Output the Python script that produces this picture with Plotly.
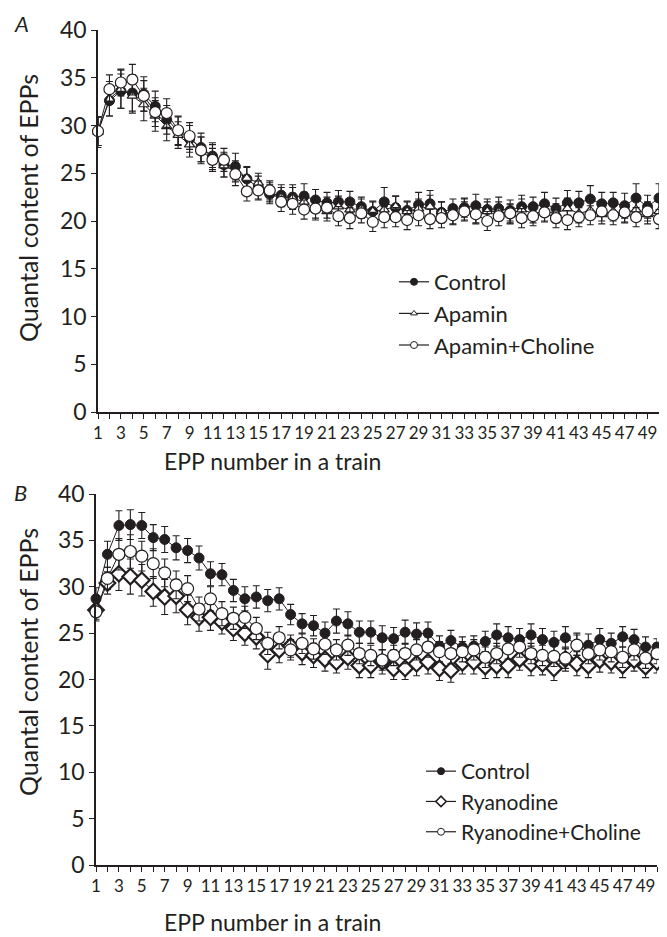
import plotly.graph_objects as go

epp = list(range(1, 51))
x_tick_vals = list(range(1, 50, 2))
x_tick_text = [str(v) for v in x_tick_vals]
y_tick_vals = [0, 5, 10, 15, 20, 25, 30, 35, 40]

# Panel A
control_a = [29.4, 32.6, 33.6, 33.4, 33.3, 32.0, 30.6, 29.4, 28.6, 27.7, 26.8, 25.9, 25.7, 24.4, 23.5,
             22.8, 22.7, 22.5, 22.6, 22.2, 21.9, 22.0, 22.0, 21.5, 21.0, 22.0, 21.4, 21.1, 21.7, 21.8,
             20.9, 21.3, 21.4, 21.6, 21.2, 21.3, 21.1, 21.5, 21.5, 21.8, 21.3, 21.9, 21.9, 22.3, 21.8,
             21.9, 21.6, 22.4, 21.5, 22.4]
control_a_err = [1.5, 1.6, 1.8, 1.9, 1.8, 1.6, 1.5, 1.5, 1.4, 1.5, 1.4, 1.3, 1.4, 1.3, 1.2,
                 1.0, 1.1, 1.3, 1.3, 1.1, 1.1, 1.2, 1.1, 1.0, 1.1, 1.5, 1.2, 1.0, 1.3, 1.4,
                 1.1, 1.0, 1.0, 1.2, 1.1, 1.2, 1.1, 1.2, 1.0, 1.2, 1.1, 1.3, 1.2, 1.4, 1.2,
                 1.1, 1.3, 1.5, 1.2, 1.5]
apamin = [29.3, 32.8, 33.8, 33.1, 32.2, 31.0, 29.9, 29.0, 28.0, 27.5, 26.8, 25.8, 25.2, 24.5, 24.0,
          23.0, 22.5, 22.4, 22.0, 21.3, 21.0, 21.5, 21.2, 21.3, 21.0, 21.2, 21.5, 21.0, 21.3, 21.5,
          21.0, 20.7, 21.2, 20.8, 21.0, 21.0, 20.7, 21.2, 20.8, 21.0, 20.8, 21.3, 20.8, 21.1, 20.7,
          21.0, 20.8, 21.2, 20.7, 21.0]
apamin_err = [1.6, 1.8, 2.0, 1.8, 1.7, 1.6, 1.5, 1.4, 1.3, 1.3, 1.2, 1.2, 1.1, 1.1, 1.0,
              1.0, 1.0, 1.1, 1.0, 1.0, 1.0, 1.1, 1.0, 1.0, 1.0, 1.0, 1.1, 1.0, 1.0, 1.2,
              1.0, 1.0, 1.1, 1.0, 1.0, 1.0, 1.0, 1.1, 1.0, 1.0, 1.0, 1.1, 1.0, 1.0, 1.0,
              1.0, 1.0, 1.1, 1.0, 1.0]
apamin_choline = [29.4, 33.8, 34.5, 34.8, 33.1, 31.4, 31.3, 29.5, 28.9, 27.4, 26.4, 26.4, 24.9, 23.1, 23.2,
                  23.2, 22.0, 21.8, 21.2, 21.3, 21.4, 20.5, 20.3, 20.8, 19.9, 20.4, 20.4, 20.1, 20.6, 20.2,
                  20.3, 20.6, 21.0, 20.7, 20.0, 20.5, 20.8, 20.3, 20.5, 20.9, 20.3, 20.1, 20.4, 20.6, 21.0,
                  20.6, 20.9, 20.4, 21.0, 20.2]
apamin_choline_err = [1.5, 1.5, 1.4, 1.6, 1.6, 1.5, 1.5, 1.5, 1.4, 1.4, 1.2, 1.2, 1.2, 1.0, 1.0,
                      1.0, 1.0, 1.1, 1.0, 1.2, 1.1, 1.0, 1.1, 1.0, 1.0, 1.1, 1.0, 1.0, 1.1, 1.0,
                      1.0, 1.0, 1.0, 1.0, 1.0, 1.0, 1.0, 1.0, 1.0, 1.0, 1.0, 1.0, 1.0, 1.0, 1.0,
                      1.0, 1.0, 1.0, 1.0, 1.0]

# Panel B
control_b = [28.7, 33.5, 36.6, 36.7, 36.6, 35.3, 35.1, 34.2, 33.9, 33.1, 31.4, 31.3, 29.6, 28.7, 28.9,
             28.5, 28.7, 27.0, 26.0, 25.8, 25.0, 26.3, 26.0, 25.1, 25.1, 24.5, 24.4, 25.1, 24.9, 25.0,
             23.6, 24.2, 23.5, 23.6, 24.1, 24.8, 24.5, 24.3, 24.8, 24.3, 24.0, 24.5, 23.8, 23.7, 24.3,
             23.9, 24.6, 24.3, 23.5, 23.5]
control_b_err = [1.2, 1.4, 1.6, 1.6, 1.4, 1.4, 1.4, 1.3, 1.3, 1.3, 1.3, 1.2, 1.2, 1.3, 1.2,
                 1.2, 1.2, 1.1, 1.1, 1.1, 1.2, 1.3, 1.3, 1.2, 1.2, 1.3, 1.2, 1.3, 1.2, 1.2,
                 1.1, 1.1, 1.1, 1.1, 1.1, 1.2, 1.2, 1.2, 1.2, 1.2, 1.2, 1.2, 1.2, 1.2, 1.2,
                 1.1, 1.1, 1.1, 1.1, 0.9]
ryanodine = [27.5, 30.4, 31.4, 31.1, 30.7, 29.5, 28.9, 29.0, 27.5, 26.7, 26.7, 26.2, 25.5, 25.0, 24.6,
             22.7, 23.2, 23.6, 22.9, 22.6, 22.2, 21.9, 22.4, 21.5, 21.5, 21.9, 21.2, 21.2, 21.7, 21.9,
             21.2, 21.0, 21.8, 21.9, 21.4, 21.5, 21.5, 22.2, 21.7, 21.7, 21.2, 22.2, 21.7, 21.5, 22.1,
             21.9, 21.5, 22.1, 21.4, 21.9]
ryanodine_err = [1.0, 1.2, 1.8, 1.9, 1.7, 1.6, 1.9, 1.8, 1.6, 1.5, 1.4, 1.3, 1.3, 1.3, 1.3,
                 1.6, 1.4, 1.2, 1.3, 1.3, 1.3, 1.2, 1.3, 1.3, 1.3, 1.3, 1.2, 1.2, 1.3, 1.3,
                 1.3, 1.3, 1.2, 1.3, 1.3, 1.3, 1.3, 1.2, 1.3, 1.2, 1.3, 1.3, 1.3, 1.3, 1.3,
                 1.2, 1.3, 1.2, 1.2, 1.2]
ryanodine_choline = [27.3, 30.9, 33.5, 33.8, 33.3, 32.5, 31.5, 30.2, 29.8, 27.6, 28.7, 27.1, 26.6, 26.7, 25.5,
                     23.9, 24.5, 23.2, 23.9, 23.3, 23.8, 23.2, 23.7, 22.8, 22.6, 22.1, 22.6, 22.8, 23.2, 23.5,
                     23.0, 22.8, 23.0, 23.2, 22.4, 22.8, 23.3, 23.5, 22.8, 22.6, 22.5, 22.3, 23.7, 22.8, 23.2,
                     23.0, 22.4, 23.2, 22.3, 22.8]
ryanodine_choline_err = [1.0, 1.2, 1.7, 1.8, 1.6, 1.6, 1.5, 1.5, 1.4, 1.3, 1.3, 1.3, 1.2, 1.2, 1.2,
                         1.2, 1.2, 1.1, 1.1, 1.1, 1.1, 1.1, 1.1, 1.1, 1.1, 1.1, 1.1, 1.1, 1.1, 1.1,
                         1.1, 1.1, 1.1, 1.1, 1.1, 1.1, 1.1, 1.1, 1.1, 1.1, 1.1, 1.1, 1.1, 1.1, 1.1,
                         1.1, 1.1, 1.1, 1.1, 1.1]

INK = "#231f20"
FONT = "Lato"
OFF = 8                 # page body margin of the browser
W, H = 667 - OFF, 937 - OFF


def px(x):
    return (x - OFF) / W


def py(y):
    return 1 - (y - OFF) / H


def err(arr):
    return dict(type="data", array=arr, visible=True, color=INK, thickness=1.1, width=3.5)


def trace(y, e, name, symbol, size, fill, lw, xa, ya):
    return go.Scatter(
        x=epp, y=y, name=name, mode="lines+markers", xaxis=xa, yaxis=ya, showlegend=False,
        error_y=err(e), cliponaxis=False,
        line=dict(color=INK, width=1),
        marker=dict(symbol=symbol, size=size, color=fill, line=dict(color=INK, width=lw)),
    )


def legend_entry(name, symbol, size, fill, lw, xa, ya, legend):
    return go.Scatter(
        x=[None], y=[None], name=name, mode="lines+markers", xaxis=xa, yaxis=ya,
        legend=legend, showlegend=True,
        line=dict(color=INK, width=1.2),
        marker=dict(symbol=symbol, size=size, color=fill, line=dict(color=INK, width=lw)),
    )


fig = go.Figure()
fig.add_trace(trace(control_a, control_a_err, "Control", "circle", 10, INK, 1, "x", "y"))
fig.add_trace(trace(apamin, apamin_err, "Apamin", "triangle-up", 9, "white", 1.2, "x", "y"))
fig.add_trace(trace(apamin_choline, apamin_choline_err, "Apamin+Choline", "circle", 11, "white", 1.2, "x", "y"))
fig.add_trace(trace(control_b, control_b_err, "Control", "circle", 10, INK, 1, "x2", "y2"))
fig.add_trace(trace(ryanodine, ryanodine_err, "Ryanodine", "diamond", 12, "white", 2.2, "x2", "y2"))
fig.add_trace(trace(ryanodine_choline, ryanodine_choline_err, "Ryanodine+Choline", "circle", 12, "white", 1.2, "x2", "y2"))

fig.add_trace(legend_entry("Control", "circle", 7, INK, 1, "x", "y", "legend"))
fig.add_trace(legend_entry("Apamin", "triangle-up", 6, "white", 1, "x", "y", "legend"))
fig.add_trace(legend_entry("Apamin+Choline", "circle", 7, "white", 1, "x", "y", "legend"))
fig.add_trace(legend_entry("Control", "circle", 7, INK, 1, "x2", "y2", "legend2"))
fig.add_trace(legend_entry("Ryanodine", "diamond", 8, "white", 1.6, "x2", "y2", "legend2"))
fig.add_trace(legend_entry("Ryanodine+Choline", "circle", 7, "white", 1, "x2", "y2", "legend2"))

xcommon = dict(
    range=[1, 50], tickmode="array", tickvals=x_tick_vals, ticktext=x_tick_text, tickangle=0,
    ticks="outside", ticklen=5, tickwidth=1, tickcolor=INK,
    minor=dict(dtick=1, tick0=1, ticks="outside", ticklen=5, tickwidth=1, tickcolor=INK),
    showline=True, linecolor=INK, linewidth=1.5, showgrid=False, zeroline=False, automargin=False,
    tickfont=dict(family=FONT, size=17, color=INK),
)
ycommon = dict(
    range=[0, 40], tickmode="array", tickvals=y_tick_vals,
    ticks="outside", ticklen=5, tickwidth=1, tickcolor=INK,
    showline=True, linecolor=INK, linewidth=1.5, showgrid=False, zeroline=False, automargin=False,
    tickfont=dict(family=FONT, size=23, color=INK),
)

fig.update_layout(
    width=W, height=H, margin=dict(l=0, r=0, t=0, b=0, autoexpand=False),
    paper_bgcolor="white", plot_bgcolor="white",
    font=dict(family=FONT, color=INK),
    xaxis=dict(xcommon, domain=[px(98), px(659)], anchor="y"),
    yaxis=dict(ycommon, domain=[py(412), py(30)], anchor="x"),
    xaxis2=dict(xcommon, domain=[px(96), px(657)], anchor="y2"),
    yaxis2=dict(ycommon, domain=[py(865), py(494)], anchor="x2"),
    legend=dict(x=px(394), y=py(261), xanchor="left", yanchor="top",
                font=dict(family=FONT, size=22, color=INK), bgcolor="rgba(0,0,0,0)",
                tracegroupgap=0),
    legend2=dict(x=px(421), y=py(751), xanchor="left", yanchor="top",
                 font=dict(family=FONT, size=21, color=INK), bgcolor="rgba(0,0,0,0)",
                 tracegroupgap=0),
    showlegend=True,
)

for txt, yy in [("<i>A</i>", 8), ("<i>B</i>", 477)]:
    fig.add_annotation(text=txt, x=px(12), y=py(yy), xref="paper", yref="paper",
                       xanchor="left", yanchor="top", showarrow=False,
                       font=dict(family=FONT, size=22, color=INK))

for yc in [208, 662]:
    fig.add_annotation(text="Quantal content of EPPs", x=px(28), y=py(yc), xref="paper", yref="paper",
                       textangle=-90, showarrow=False, xanchor="center", yanchor="middle",
                       font=dict(family=FONT, size=25, color=INK))
for yc in [461, 922]:
    fig.add_annotation(text="EPP number in a train", x=px(272), y=py(yc), xref="paper", yref="paper",
                       showarrow=False, xanchor="center", yanchor="middle",
                       font=dict(family=FONT, size=23, color=INK))

fig.write_html("out.html")
